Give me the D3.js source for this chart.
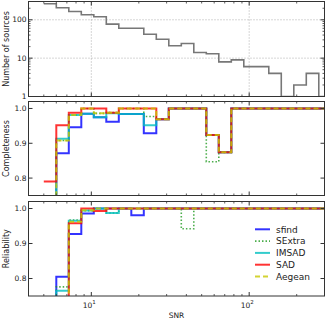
<!DOCTYPE html>
<html>
<head>
<meta charset="utf-8">
<script src="https://cdn.jsdelivr.net/npm/d3@7"></script>
<style>
body { margin: 0; background: #fff; }
svg text { font-family: "DejaVu Sans", sans-serif; fill: #222; }
</style>
</head>
<body>
<div id="chart"></div>
<script>
// SNR bin edges (24 edges -> 23 bins)
var snrEdges = [5, 6, 7.2, 8.64, 10.37, 12.44, 14.93, 17.92, 21.5, 25.8, 30.96, 37.15,
    44.58, 53.5, 64.2, 77.04, 92.45, 110.9, 133.1, 159.7, 191.7, 230, 276, 331];

var sourceCounts = [262, 206, 165, 135, 120, 77, 60, 60, 42, 31, 21, 24, 14, 13, 8, 9, 6, 6, 4, 0, 2, 4, 0];

var seriesNames = ["sfind", "SExtra", "IMSAD", "SAD", "Aegean"];

var complSfind  = [0.60, 0.871, 0.946, 0.985, 0.975, 0.962, 0.984, 0.984, 0.929, 0.969, 1, 1, 1, 0.924, 0.874, 1, 1, 1, 1, 1, 1, 1, 1];
var complSExtra = [0.60, 0.908, 0.981, 1, 0.986, 0.988, 1, 1, 0.977, 0.969, 1, 1, 1, 0.847, 0.874, 1, 1, 1, 1, 1, 1, 1, 1];
var complIMSAD  = [0.60, 0.913, 0.981, 0.985, 0.975, 0.986, 0.984, 0.984, 0.952, 0.969, 1, 1, 1, 0.924, 0.874, 1, 1, 1, 1, 1, 1, 1, 1];
var complSAD    = [0.79, 0.952, 0.988, 1, 1, 0.988, 1, 1, 1, 0.969, 1, 1, 1, 0.924, 0.874, 1, 1, 1, 1, 1, 1, 1, 1];
var complAegean = [0.60, 0.908, 0.981, 1, 0.986, 0.988, 1, 1, 1, 0.969, 1, 1, 1, 0.924, 0.874, 1, 1, 1, 1, 1, 1, 1, 1];

var relSfind  = [0.60, 0.805, 0.927, 0.986, 1, 1, 1, 0.981, 1, 1, 1, 1, 1, 1, 1, 1, 1, 1, 1, 1, 1, 1, 1];
var relSExtra = [0.60, 0.776, 0.967, 0.994, 1, 0.987, 1, 1, 1, 1, 1, 0.942, 1, 1, 1, 1, 1, 1, 1, 1, 1, 1, 1];
var relIMSAD  = [0.60, 0.765, 0.965, 0.994, 1, 0.987, 1, 1, 1, 1, 1, 1, 1, 1, 1, 1, 1, 1, 1, 1, 1, 1, 1];
var relSAD    = [0.60, 0.60, 0.958, 1, 0.993, 1, 1, 1, 1, 1, 1, 1, 1, 1, 1, 1, 1, 1, 1, 1, 1, 1, 1];
var relAegean = [0.60, 0.60, 0.962, 0.995, 1, 1, 1, 1, 1, 1, 1, 1, 1, 1, 1, 1, 1, 1, 1, 1, 1, 1, 1];

var yTicksFrac = [0.8, 0.9, 1.0];
var yTicksCount = [1, 10, 100];
var xTicksMajor = [10, 100];

var seriesStyle = {
    sfind:  { color: "#0000ff", dash: null, width: 2 },
    SExtra: { color: "#1f9a1f", dash: "1.5,2", width: 1.6 },
    IMSAD:  { color: "#00bfbf", dash: null, width: 2 },
    SAD:    { color: "#ff0000", dash: null, width: 2 },
    Aegean: { color: "#c8c800", dash: "5,3", width: 2 }
};

var W = 329, H = 320,
    left = 28.5, right = 324.5,
    panels = [
        { top: 1.5, bottom: 96.5 },
        { top: 101.5, bottom: 195.5 },
        { top: 201.5, bottom: 296 }
    ];

var svg = d3.select("#chart").append("svg")
    .attr("width", W)
    .attr("height", H);

svg.append("rect").attr("width", W).attr("height", H).attr("fill", "#fff");

var x = d3.scaleLog().domain([4, 300]).range([left, right]);
var xMinor = x.ticks().filter(function (t) { return xTicksMajor.indexOf(t) < 0; });

function stepPoints(values) {
    var pts = values.map(function (v, i) { return [snrEdges[i], v]; });
    pts.push([snrEdges[values.length], values[values.length - 1]]);
    return pts;
}

function drawFrame(g, p, y, yMajor, yMinor) {
    // x ticks, inward, top and bottom
    xTicksMajor.forEach(function (t) {
        g.append("line").attr("x1", x(t)).attr("x2", x(t)).attr("y1", p.bottom).attr("y2", p.bottom - 4).attr("stroke", "#333");
        g.append("line").attr("x1", x(t)).attr("x2", x(t)).attr("y1", p.top).attr("y2", p.top + 4).attr("stroke", "#333");
    });
    xMinor.forEach(function (t) {
        g.append("line").attr("x1", x(t)).attr("x2", x(t)).attr("y1", p.bottom).attr("y2", p.bottom - 2).attr("stroke", "#333").attr("stroke-width", 0.8);
        g.append("line").attr("x1", x(t)).attr("x2", x(t)).attr("y1", p.top).attr("y2", p.top + 2).attr("stroke", "#333").attr("stroke-width", 0.8);
    });
    yMajor.forEach(function (t) {
        g.append("line").attr("x1", left).attr("x2", left + 4).attr("y1", y(t)).attr("y2", y(t)).attr("stroke", "#333");
        g.append("line").attr("x1", right).attr("x2", right - 4).attr("y1", y(t)).attr("y2", y(t)).attr("stroke", "#333");
        g.append("text")
            .attr("x", left - 2)
            .attr("y", y(t) + 2.7)
            .attr("text-anchor", "end")
            .attr("font-size", "7.5px")
            .text(yMajor === yTicksFrac ? d3.format(".1f")(t) : t);
    });
    yMinor.forEach(function (t) {
        g.append("line").attr("x1", left).attr("x2", left + 2).attr("y1", y(t)).attr("y2", y(t)).attr("stroke", "#333").attr("stroke-width", 0.8);
        g.append("line").attr("x1", right).attr("x2", right - 2).attr("y1", y(t)).attr("y2", y(t)).attr("stroke", "#333").attr("stroke-width", 0.8);
    });
    g.append("rect")
        .attr("x", left).attr("y", p.top)
        .attr("width", right - left).attr("height", p.bottom - p.top)
        .attr("fill", "none").attr("stroke", "#333").attr("stroke-width", 1);
}

function yLabel(text, p) {
    svg.append("text")
        .attr("transform", "translate(9," + ((p.top + p.bottom) / 2) + ") rotate(-90)")
        .attr("text-anchor", "middle")
        .attr("font-size", "8px")
        .text(text);
}

// ---------- top panel: number of sources ----------
var p0 = panels[0],
    y0 = d3.scaleLog().domain([1, 300]).range([p0.bottom, p0.top]),
    g0 = svg.append("g");

svg.append("clipPath").attr("id", "clip0").append("rect")
    .attr("x", left).attr("y", p0.top).attr("width", right - left).attr("height", p0.bottom - p0.top);

// dotted grid
xTicksMajor.forEach(function (t) {
    g0.append("line").attr("x1", x(t)).attr("x2", x(t)).attr("y1", p0.top).attr("y2", p0.bottom)
        .attr("stroke", "#999").attr("stroke-width", 0.8).attr("stroke-dasharray", "1,2");
});
[10, 100].forEach(function (t) {
    g0.append("line").attr("x1", left).attr("x2", right).attr("y1", y0(t)).attr("y2", y0(t))
        .attr("stroke", "#999").attr("stroke-width", 0.8).attr("stroke-dasharray", "1,2");
});

g0.append("path")
    .datum(stepPoints(sourceCounts))
    .attr("clip-path", "url(#clip0)")
    .attr("fill", "none")
    .attr("stroke", "#777")
    .attr("stroke-width", 1.6)
    .attr("d", d3.line()
        .x(function (d) { return x(d[0]); })
        .y(function (d) { return y0(Math.max(d[1], 1)); })
        .curve(d3.curveStepAfter));

drawFrame(g0, p0, y0, yTicksCount, y0.ticks().filter(function (t) { return yTicksCount.indexOf(t) < 0; }));
yLabel("Number of sources", p0);

// ---------- completeness / reliability panels ----------
var complTable = [complSfind, complSExtra, complIMSAD, complSAD, complAegean],
    relTable = [relSfind, relSExtra, relIMSAD, relSAD, relAegean];

function drawRatioPanel(idx, table, label) {
    var p = panels[idx],
        y = d3.scaleLinear().domain([0.75, 1.02]).range([p.bottom, p.top]),
        g = svg.append("g"),
        line = d3.line()
            .x(function (d) { return x(d[0]); })
            .y(function (d) { return y(d[1]); })
            .curve(d3.curveStepAfter);

    svg.append("clipPath").attr("id", "clip" + idx).append("rect")
        .attr("x", left).attr("y", p.top).attr("width", right - left).attr("height", p.bottom - p.top);

    seriesNames.forEach(function (name, i) {
        var st = seriesStyle[name];
        g.append("path")
            .datum(stepPoints(table[i]))
            .attr("clip-path", "url(#clip" + idx + ")")
            .attr("fill", "none")
            .attr("stroke", st.color)
            .attr("stroke-opacity", 0.8)
            .attr("stroke-width", st.width)
            .attr("stroke-dasharray", st.dash)
            .attr("d", line);
    });

    drawFrame(g, p, y, yTicksFrac, []);
    yLabel(label, p);
    return g;
}

drawRatioPanel(1, complTable, "Completeness");
var gRel = drawRatioPanel(2, relTable, "Reliability");

// legend
var legend = gRel.append("g").attr("transform", "translate(255,229.3)");
seriesNames.forEach(function (name, i) {
    var st = seriesStyle[name],
        row = legend.append("g").attr("transform", "translate(0," + (i * 11.8) + ")");
    row.append("line")
        .attr("x1", 0).attr("x2", 15)
        .attr("stroke", st.color)
        .attr("stroke-opacity", 0.8)
        .attr("stroke-width", st.width)
        .attr("stroke-dasharray", st.dash);
    row.append("text")
        .attr("x", 21).attr("y", 3.2)
        .attr("font-size", "9px")
        .text(name);
});

// x tick labels with superscript exponents
xTicksMajor.forEach(function (t) {
    var txt = svg.append("text")
        .attr("x", x(t) - 2)
        .attr("y", 307.5)
        .attr("text-anchor", "middle")
        .attr("font-size", "7.5px");
    txt.append("tspan").text("10");
    txt.append("tspan")
        .attr("font-size", "5.5px")
        .attr("dy", -3.5)
        .text(Math.round(Math.log10(t)));
});

svg.append("text")
    .attr("x", (left + right) / 2)
    .attr("y", 317.5)
    .attr("text-anchor", "middle")
    .attr("font-size", "7.5px")
    .text("SNR");
</script>
</body>
</html>
